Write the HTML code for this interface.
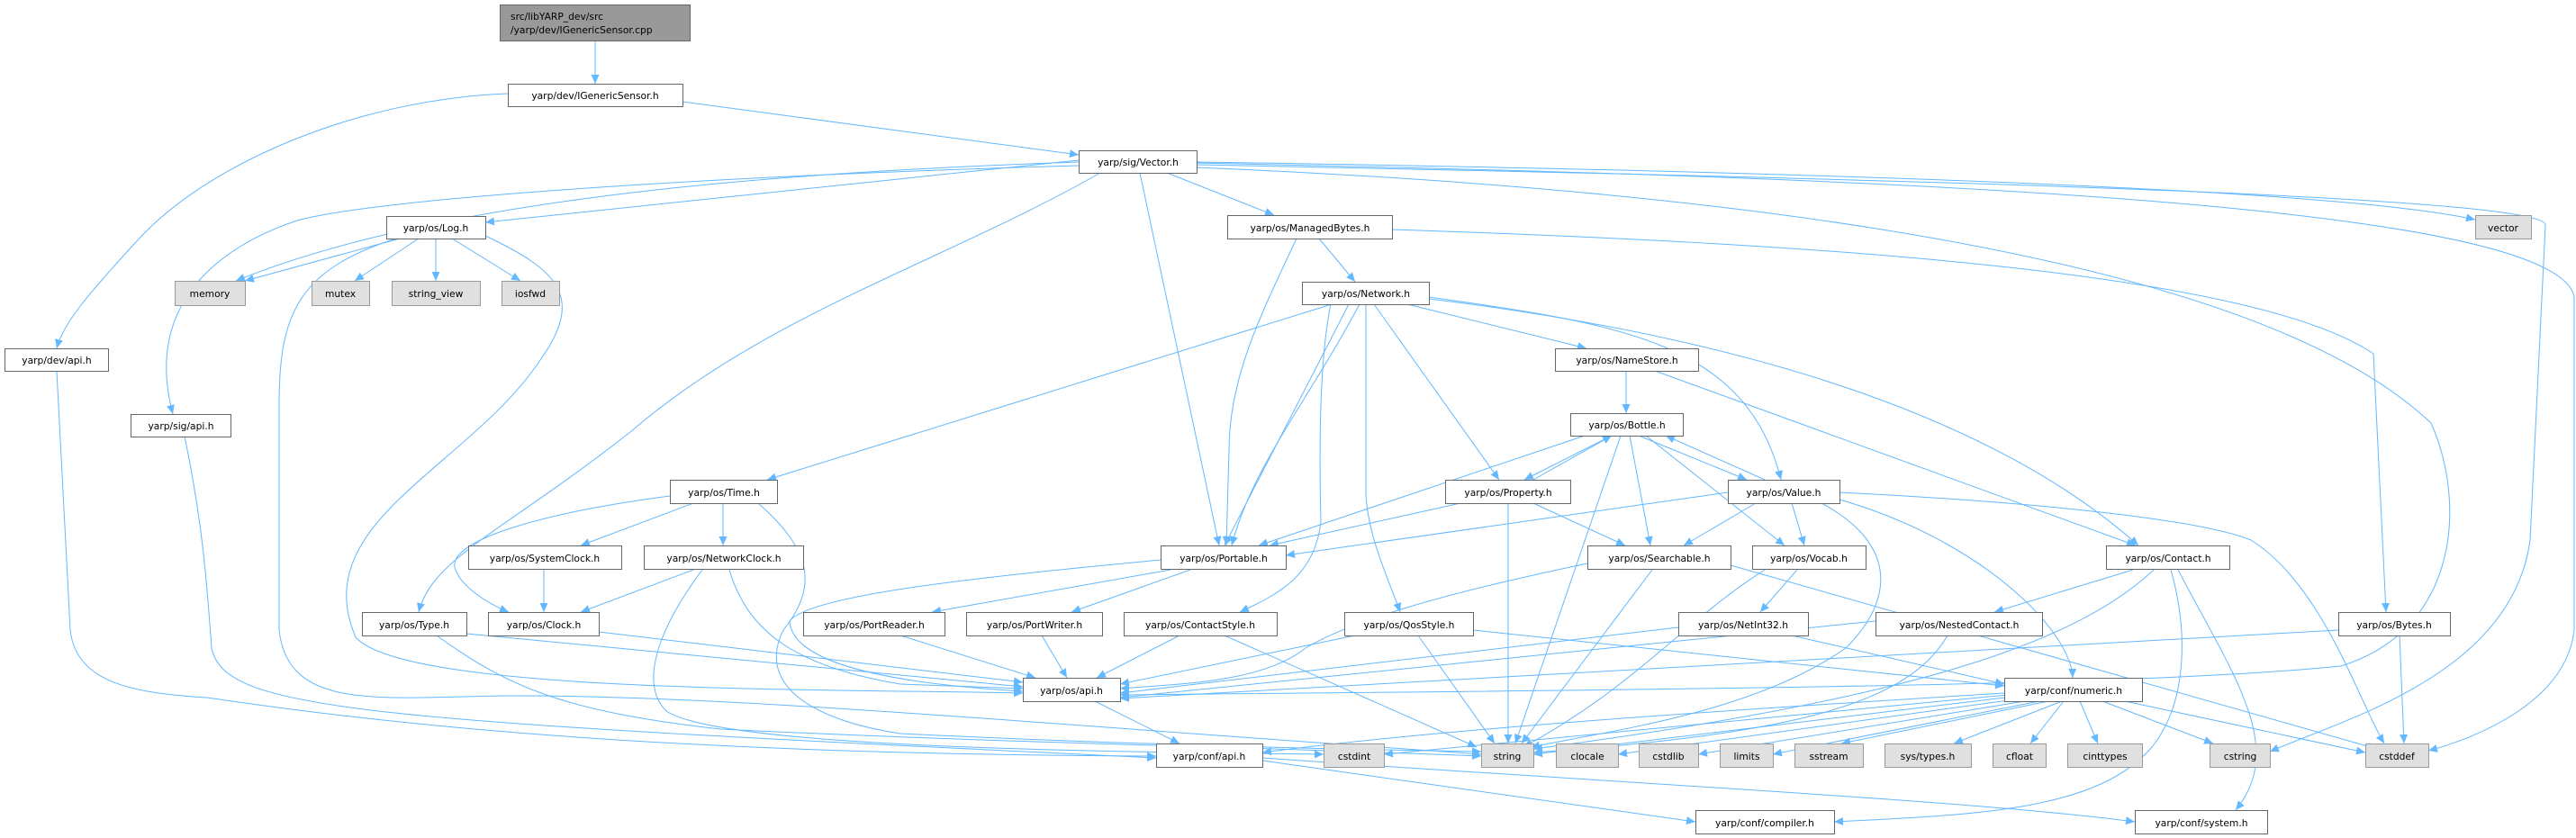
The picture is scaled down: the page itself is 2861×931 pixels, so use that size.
<!DOCTYPE html>
<html><head><meta charset="utf-8"><style>
html,body{margin:0;padding:0;background:#fff}
svg{display:block}
text{font-family:"DejaVu Sans","Liberation Sans",sans-serif;font-size:10.7px;fill:#000;text-anchor:middle}
.n{fill:#fff;stroke:#666;stroke-width:1}
.s{fill:#e0e0e0;stroke:#999;stroke-width:1}
.r{fill:#999;stroke:#666;stroke-width:1}
path.e{fill:none;stroke:#63b8ff;stroke-width:1;marker-end:url(#a)}
</style></head><body>
<svg width="2861" height="931" viewBox="0 0 2861 931" xmlns="http://www.w3.org/2000/svg">
<defs><marker id="a" markerUnits="userSpaceOnUse" markerWidth="11" markerHeight="9" refX="10" refY="4.5" orient="auto"><path d="M0,0 L10,4.5 L0,9 z" fill="#63b8ff"/></marker></defs>
<g>
<path class="e" d="M661,45 L661,93"/>
<path class="e" d="M564,104 C400,110 230,180 150,270 C95,330 70,360 63,387"/>
<path class="e" d="M758,113 L1198,172"/>
<path class="e" d="M1198,178 L539,247"/>
<path class="e" d="M1198,180 C900,190 500,215 262,312"/>
<path class="e" d="M1198,184 C800,195 420,220 330,245 C240,275 160,340 192,460"/>
<path class="e" d="M1222,192 C1050,290 850,350 700,480 C560,590 480,620 465,680"/>
<path class="e" d="M1266,192 L1354,606"/>
<path class="e" d="M1296,192 L1415,239"/>
<path class="e" d="M1329,180 C2000,190 2600,210 2749,244"/>
<path class="e" d="M1329,181 C2000,195 2840,220 2859,330 L2859,700 C2850,780 2750,820 2697,834"/>
<path class="e" d="M1329,183 C2200,200 2830,220 2827,250 L2810,600 C2790,750 2600,800 2521,835"/>
<path class="e" d="M1329,186 C1900,210 2500,280 2700,470 C2740,560 2730,700 2600,740 C2400,760 2000,765 1244,772"/>
<path class="e" d="M444,265 L272,312"/>
<path class="e" d="M465,265 L394,312"/>
<path class="e" d="M484,265 L484,312"/>
<path class="e" d="M502,265 L578,312"/>
<path class="e" d="M539,262 C620,300 650,330 600,400 C520,520 340,580 395,708 C450,770 900,765 1136,770"/>
<path class="e" d="M440,265 C330,300 310,350 310,450 L310,700 C320,790 420,775 560,773 C800,772 1100,800 1645,838"/>
<path class="e" d="M63,412 L78,700 C85,760 150,770 230,775 C400,800 700,838 1284,840"/>
<path class="e" d="M205,485 C225,580 230,650 235,720 C250,790 400,800 1284,842"/>
<path class="e" d="M1465,265 L1505,313"/>
<path class="e" d="M1440,265 C1400,350 1365,420 1365,500 L1362,606"/>
<path class="e" d="M1546,255 C2000,270 2500,300 2636,393 L2650,680"/>
<path class="e" d="M1479,338 L852,533"/>
<path class="e" d="M1498,338 L1360,606"/>
<path class="e" d="M1510,338 C1450,450 1390,520 1368,606"/>
<path class="e" d="M1478,338 C1465,400 1465,500 1467,580 C1460,640 1420,660 1377,680"/>
<path class="e" d="M1517,338 L1517,550 C1520,600 1545,650 1555,680"/>
<path class="e" d="M1526,338 L1665,533"/>
<path class="e" d="M1563,338 L1762,387"/>
<path class="e" d="M1587,330 C1800,360 1940,380 1978,533"/>
<path class="e" d="M1587,332 C1900,370 2200,450 2375,606"/>
<path class="e" d="M1806,412 L1806,459"/>
<path class="e" d="M1838,412 L2372,606"/>
<path class="e" d="M1760,484 L1398,606"/>
<path class="e" d="M1790,484 L1693,533"/>
<path class="e" d="M1703,533 L1790,484"/>
<path class="e" d="M1800,484 L1683,826"/>
<path class="e" d="M1810,484 L1833,606"/>
<path class="e" d="M1820,484 L1940,533"/>
<path class="e" d="M1960,533 L1850,484"/>
<path class="e" d="M1828,484 L1982,606"/>
<path class="e" d="M1622,559 L1410,606"/>
<path class="e" d="M1703,559 L1805,606"/>
<path class="e" d="M1675,559 L1675,826"/>
<path class="e" d="M1919,547 L1428,617"/>
<path class="e" d="M1950,559 L1870,606"/>
<path class="e" d="M1990,559 L2004,606"/>
<path class="e" d="M2023,559 C2100,600 2110,660 2050,720 C1950,790 1800,810 1700,830"/>
<path class="e" d="M2043,555 C2200,600 2300,700 2302,753"/>
<path class="e" d="M2043,547 C2300,560 2450,580 2500,600 C2580,650 2620,780 2648,826"/>
<path class="e" d="M1763,626 C1600,660 1500,690 1450,720 C1400,760 1300,760 1244,765"/>
<path class="e" d="M1835,633 L1690,826"/>
<path class="e" d="M1922,628 L2640,832"/>
<path class="e" d="M1996,633 L1955,680"/>
<path class="e" d="M1960,633 C1870,690 1820,760 1692,830"/>
<path class="e" d="M1864,697 L1244,770"/>
<path class="e" d="M1990,706 L2226,760"/>
<path class="e" d="M1289,622 C1100,640 900,660 877,690 C880,740 1000,760 1136,768"/>
<path class="e" d="M1300,633 L1035,680"/>
<path class="e" d="M1322,633 L1190,680"/>
<path class="e" d="M1000,706 L1150,753"/>
<path class="e" d="M1157,706 L1185,753"/>
<path class="e" d="M1310,706 L1218,753"/>
<path class="e" d="M1360,706 L1640,830"/>
<path class="e" d="M1505,706 L1244,760"/>
<path class="e" d="M1575,706 L1660,826"/>
<path class="e" d="M1636,700 L2226,762"/>
<path class="e" d="M770,559 L645,606"/>
<path class="e" d="M803,559 L803,606"/>
<path class="e" d="M744,551 C600,570 500,600 505,630 C510,650 540,670 565,680"/>
<path class="e" d="M842,559 C900,610 910,650 870,700 C840,760 900,800 1000,815 C1200,825 1450,832 1645,835"/>
<path class="e" d="M604,633 L604,680"/>
<path class="e" d="M770,633 L645,680"/>
<path class="e" d="M810,633 C830,700 880,740 1000,760 L1136,765"/>
<path class="e" d="M780,633 C730,700 710,760 740,790 C800,830 1200,835 1470,838"/>
<path class="e" d="M665,702 L1136,758"/>
<path class="e" d="M518,704 L1136,763"/>
<path class="e" d="M485,706 C560,760 620,790 800,810 C1100,825 1400,830 1645,840"/>
<path class="e" d="M1216,779 L1310,826"/>
<path class="e" d="M2369,633 L2215,680"/>
<path class="e" d="M2392,633 C2300,720 2100,780 1703,832"/>
<path class="e" d="M2411,633 C2430,700 2430,780 2390,830 C2330,900 2200,905 2037,913"/>
<path class="e" d="M2419,633 C2480,750 2540,830 2483,900"/>
<path class="e" d="M2083,690 L1244,775"/>
<path class="e" d="M2163,706 C2120,780 2000,815 1703,836"/>
<path class="e" d="M2597,700 L1244,776"/>
<path class="e" d="M2665,706 L2670,826"/>
<path class="e" d="M2226,770 C1900,790 1600,810 1402,836"/>
<path class="e" d="M2230,772 L1537,838"/>
<path class="e" d="M2235,774 L1703,838"/>
<path class="e" d="M2245,776 L1797,838"/>
<path class="e" d="M2255,778 L1886,838"/>
<path class="e" d="M2265,779 L1969,838"/>
<path class="e" d="M2275,779 L2045,826"/>
<path class="e" d="M2290,779 L2170,826"/>
<path class="e" d="M2292,779 L2255,826"/>
<path class="e" d="M2310,779 L2330,826"/>
<path class="e" d="M2335,779 L2458,826"/>
<path class="e" d="M2360,779 L2627,836"/>
<path class="e" d="M1402,845 L1883,913"/>
<path class="e" d="M1402,842 C1800,870 2200,890 2371,913"/>
</g>
<g>
<rect class="r" x="555.5" y="5.5" width="211" height="40"/><text x="567" y="22" style="text-anchor:start">src/libYARP_dev/src</text><text x="567" y="37" style="text-anchor:start">/yarp/dev/IGenericSensor.cpp</text>
<rect class="n" x="564.5" y="93.5" width="194" height="25"/><text x="661" y="110">yarp/dev/IGenericSensor.h</text>
<rect class="n" x="1198.5" y="167.5" width="131" height="25"/><text x="1264" y="184">yarp/sig/Vector.h</text>
<rect class="n" x="429.5" y="240.5" width="110" height="25"/><text x="484" y="257">yarp/os/Log.h</text>
<rect class="n" x="1363.5" y="239.5" width="183" height="26"/><text x="1455" y="257">yarp/os/ManagedBytes.h</text>
<rect class="s" x="2749.5" y="239.5" width="62" height="26"/><text x="2780" y="257">vector</text>
<rect class="s" x="194.5" y="312.5" width="78" height="27"/><text x="233" y="330">memory</text>
<rect class="s" x="346.5" y="312.5" width="64" height="27"/><text x="378" y="330">mutex</text>
<rect class="s" x="435.5" y="312.5" width="98" height="27"/><text x="484" y="330">string_view</text>
<rect class="s" x="557.5" y="312.5" width="64" height="27"/><text x="589" y="330">iosfwd</text>
<rect class="n" x="1446.5" y="313.5" width="141" height="25"/><text x="1517" y="330">yarp/os/Network.h</text>
<rect class="n" x="5.5" y="387.5" width="115" height="25"/><text x="63" y="404">yarp/dev/api.h</text>
<rect class="n" x="1727.5" y="387.5" width="159" height="25"/><text x="1807" y="404">yarp/os/NameStore.h</text>
<rect class="n" x="145.5" y="460.5" width="111" height="25"/><text x="201" y="477">yarp/sig/api.h</text>
<rect class="n" x="1744.5" y="459.5" width="125" height="25"/><text x="1807" y="476">yarp/os/Bottle.h</text>
<rect class="n" x="744.5" y="533.5" width="119" height="26"/><text x="804" y="551">yarp/os/Time.h</text>
<rect class="n" x="1605.5" y="533.5" width="139" height="26"/><text x="1675" y="551">yarp/os/Property.h</text>
<rect class="n" x="1919.5" y="533.5" width="124" height="26"/><text x="1981" y="551">yarp/os/Value.h</text>
<rect class="n" x="520.5" y="606.5" width="170" height="26"/><text x="605" y="624">yarp/os/SystemClock.h</text>
<rect class="n" x="715.5" y="606.5" width="177" height="26"/><text x="804" y="624">yarp/os/NetworkClock.h</text>
<rect class="n" x="1289.5" y="606.5" width="139" height="26"/><text x="1359" y="624">yarp/os/Portable.h</text>
<rect class="n" x="1763.5" y="606.5" width="159" height="26"/><text x="1843" y="624">yarp/os/Searchable.h</text>
<rect class="n" x="1946.5" y="606.5" width="126" height="26"/><text x="2009" y="624">yarp/os/Vocab.h</text>
<rect class="n" x="2339.5" y="606.5" width="137" height="26"/><text x="2408" y="624">yarp/os/Contact.h</text>
<rect class="n" x="402.5" y="680.5" width="116" height="26"/><text x="460" y="698">yarp/os/Type.h</text>
<rect class="n" x="542.5" y="680.5" width="123" height="26"/><text x="604" y="698">yarp/os/Clock.h</text>
<rect class="n" x="892.5" y="680.5" width="157" height="26"/><text x="971" y="698">yarp/os/PortReader.h</text>
<rect class="n" x="1073.5" y="680.5" width="151" height="26"/><text x="1149" y="698">yarp/os/PortWriter.h</text>
<rect class="n" x="1248.5" y="680.5" width="170" height="26"/><text x="1333" y="698">yarp/os/ContactStyle.h</text>
<rect class="n" x="1493.5" y="680.5" width="143" height="26"/><text x="1565" y="698">yarp/os/QosStyle.h</text>
<rect class="n" x="1864.5" y="680.5" width="144" height="26"/><text x="1936" y="698">yarp/os/NetInt32.h</text>
<rect class="n" x="2083.5" y="680.5" width="185" height="26"/><text x="2176" y="698">yarp/os/NestedContact.h</text>
<rect class="n" x="2597.5" y="680.5" width="124" height="26"/><text x="2659" y="698">yarp/os/Bytes.h</text>
<rect class="n" x="1136.5" y="753.5" width="108" height="26"/><text x="1190" y="771">yarp/os/api.h</text>
<rect class="n" x="2226.5" y="753.5" width="153" height="26"/><text x="2303" y="771">yarp/conf/numeric.h</text>
<rect class="n" x="1284.5" y="826.5" width="118" height="26"/><text x="1343" y="844">yarp/conf/api.h</text>
<rect class="s" x="1470.5" y="826.5" width="67" height="26"/><text x="1504" y="844">cstdint</text>
<rect class="s" x="1645.5" y="826.5" width="58" height="26"/><text x="1674" y="844">string</text>
<rect class="s" x="1728.5" y="826.5" width="69" height="26"/><text x="1763" y="844">clocale</text>
<rect class="s" x="1820.5" y="826.5" width="66" height="26"/><text x="1853" y="844">cstdlib</text>
<rect class="s" x="1910.5" y="826.5" width="59" height="26"/><text x="1940" y="844">limits</text>
<rect class="s" x="1993.5" y="826.5" width="76" height="26"/><text x="2031" y="844">sstream</text>
<rect class="s" x="2093.5" y="826.5" width="96" height="26"/><text x="2141" y="844">sys/types.h</text>
<rect class="s" x="2213.5" y="826.5" width="59" height="26"/><text x="2243" y="844">cfloat</text>
<rect class="s" x="2296.5" y="826.5" width="83" height="26"/><text x="2338" y="844">cinttypes</text>
<rect class="s" x="2454.5" y="826.5" width="67" height="26"/><text x="2488" y="844">cstring</text>
<rect class="s" x="2627.5" y="826.5" width="70" height="26"/><text x="2662" y="844">cstddef</text>
<rect class="n" x="1883.5" y="900.5" width="154" height="26"/><text x="1960" y="918">yarp/conf/compiler.h</text>
<rect class="n" x="2371.5" y="900.5" width="147" height="26"/><text x="2445" y="918">yarp/conf/system.h</text>
</g>
</svg>
</body></html>
